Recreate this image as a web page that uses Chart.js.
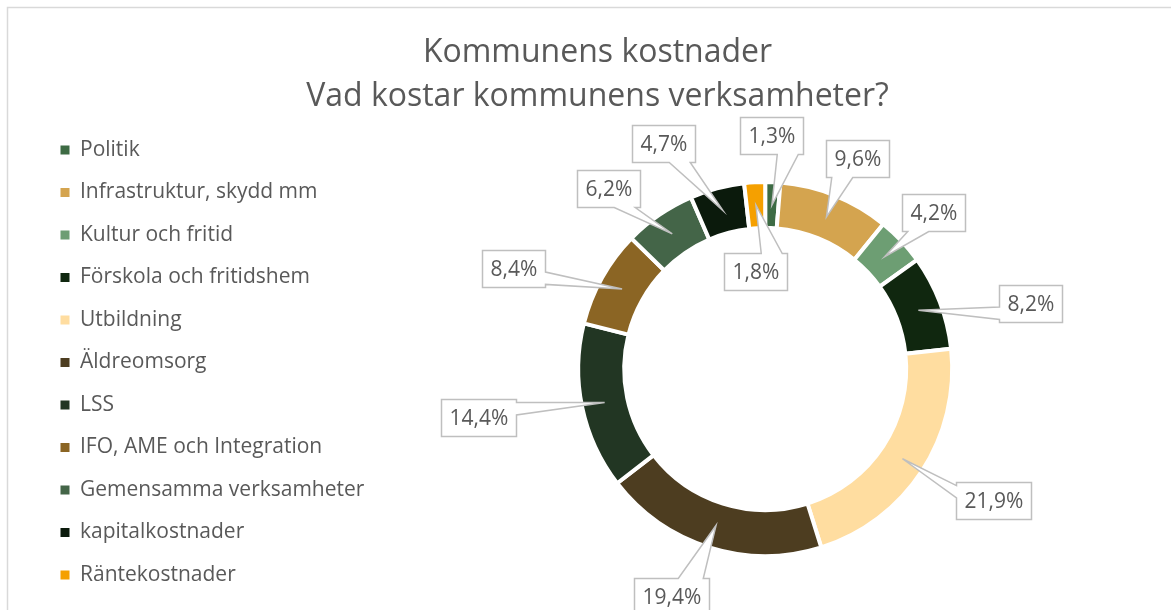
<!DOCTYPE html>
<html>
<head>
<meta charset="utf-8">
<script src="https://cdn.jsdelivr.net/npm/chart.js@4.4.0/dist/chart.umd.min.js"></script>
<style>
  html, body { margin: 0; padding: 0; background: #fff; }
</style>
</head>
<body>
<canvas id="costChart" width="1171" height="610"></canvas>
<script>
const categories = ['Politik', 'Infrastruktur, skydd mm', 'Kultur och fritid', 'Förskola och fritidshem', 'Utbildning',
  'Äldreomsorg', 'LSS', 'IFO, AME och Integration', 'Gemensamma verksamheter', 'kapitalkostnader', 'Räntekostnader'];
const shares = [1.3, 9.6, 4.2, 8.2, 21.9, 19.4, 14.4, 8.4, 6.2, 4.7, 1.8];
const sliceColors = ['#3d6b44', '#d4a44f', '#6d9e73', '#10270f', '#ffdda0', '#4d3d20', '#223623', '#8b6524', '#446548', '#0b1a0c', '#f5a000'];
const titleLines = ['Kommunens kostnader', 'Vad kostar kommunens verksamheter?'];

const FONT = '"Open Sans", "DejaVu Sans", sans-serif';
const GREY = '#595959';

// white page + the thin grey frame of the chart box
const framePlugin = {
    id: 'frame',
    beforeDraw(chart) {
        const ctx = chart.ctx;
        ctx.save();
        ctx.fillStyle = '#fff';
        ctx.fillRect(0, 0, chart.width, chart.height);
        ctx.strokeStyle = '#d9d9d9';
        ctx.lineWidth = 1.5;
        ctx.beginPath();
        ctx.moveTo(7.5, chart.height);
        ctx.lineTo(7.5, 7.5);
        ctx.lineTo(chart.width, 7.5);
        ctx.stroke();
        ctx.restore();
    }
};

// Excel-like data callouts: box with a wedge pointing into the slice
const calloutPlugin = {
    id: 'callouts',
    afterDatasetsDraw(chart, args, opts) {
        const ctx = chart.ctx;
        const meta = chart.getDatasetMeta(0);
        ctx.save();
        ctx.font = opts.font;
        meta.data.forEach((arc, i) => {
            const p = arc.getProps(['x', 'y', 'startAngle', 'endAngle', 'innerRadius', 'outerRadius'], true);
            const mid = (p.startAngle + p.endAngle) / 2;
            const rMid = (p.innerRadius + p.outerRadius) / 2;
            const tipX = p.x + Math.cos(mid) * rMid;
            const tipY = p.y + Math.sin(mid) * rMid;
            const a = mid + opts.turn[i] * Math.PI / 180;
            const cx = p.x + Math.cos(a) * opts.dist[i];
            const cy = p.y + Math.sin(a) * opts.dist[i];

            const text = shares[i].toFixed(1).replace('.', ',') + '%';
            const w = Math.round(ctx.measureText(text).width + opts.padX * 2);
            const h = opts.boxHeight;
            const l = Math.round(cx - w / 2) + 0.5, t = Math.round(cy - h / 2) + 0.5;
            const r = l + w, b = t + h;
            const dx = tipX - cx, dy = tipY - cy;
            const horiz = Math.abs(dx * h) > Math.abs(dy * w);

            ctx.beginPath();
            ctx.moveTo(l, t);
            if (!horiz && dy < 0) {
                const xa = dx > 0 ? l + w * 7 / 12 : l + w / 12;
                const xb = dx > 0 ? l + w * 11 / 12 : l + w * 5 / 12;
                ctx.lineTo(xa, t); ctx.lineTo(tipX, tipY); ctx.lineTo(xb, t);
            }
            ctx.lineTo(r, t);
            if (horiz && dx > 0) {
                const ya = dy > 0 ? t + h * 7 / 12 : t + h / 12;
                const yb = dy > 0 ? t + h * 11 / 12 : t + h * 5 / 12;
                ctx.lineTo(r, ya); ctx.lineTo(tipX, tipY); ctx.lineTo(r, yb);
            }
            ctx.lineTo(r, b);
            if (!horiz && dy >= 0) {
                const xa = dx > 0 ? l + w * 11 / 12 : l + w * 5 / 12;
                const xb = dx > 0 ? l + w * 7 / 12 : l + w / 12;
                ctx.lineTo(xa, b); ctx.lineTo(tipX, tipY); ctx.lineTo(xb, b);
            }
            ctx.lineTo(l, b);
            if (horiz && dx <= 0) {
                const ya = dy > 0 ? t + h * 11 / 12 : t + h * 5 / 12;
                const yb = dy > 0 ? t + h * 7 / 12 : t + h / 12;
                ctx.lineTo(l, ya); ctx.lineTo(tipX, tipY); ctx.lineTo(l, yb);
            }
            ctx.closePath();
            ctx.fillStyle = '#fff';
            ctx.fill();
            ctx.strokeStyle = opts.borderColor;
            ctx.lineWidth = 1.5;
            ctx.stroke();

            ctx.fillStyle = opts.color;
            ctx.textAlign = 'center';
            ctx.textBaseline = 'middle';
            ctx.fillText(text, l + w / 2, t + h / 2 + 1);
        });
        ctx.restore();
    }
};

const ctx = document.getElementById('costChart').getContext('2d');

// layout: top padding only moves the full-height legend down; the title pulls
// itself back up with a negative top padding
new Chart(ctx, {
    type: 'doughnut',
    data: {
        labels: categories,
        datasets: [{
            data: shares,
            backgroundColor: sliceColors,
            borderColor: '#ffffff',
            borderWidth: 4,
            radius: 187,
            cutout: '75.4%'
        }]
    },
    options: {
        responsive: false,
        animation: false,
        layout: { padding: { left: 39, right: 15, top: 115, bottom: 0 } },
        plugins: {
            title: {
                display: true,
                text: titleLines,
                color: GREY,
                font: { family: FONT, size: 32, weight: 'normal', lineHeight: 1.4 },
                padding: { top: -85, bottom: 8.4 }
            },
            legend: {
                position: 'left',
                align: 'center',
                fullSize: true,
                labels: {
                    boxWidth: 9,
                    boxHeight: 9,
                    padding: 21.5,
                    color: GREY,
                    font: { family: FONT, size: 21 },
                    generateLabels(chart) {
                        const items = Chart.overrides.doughnut.plugins.legend.labels.generateLabels(chart);
                        return items.map(it => Object.assign(it, { lineWidth: 0, strokeStyle: it.fillStyle }));
                    }
                }
            },
            tooltip: { enabled: false },
            callouts: {
                font: '21px ' + FONT,
                color: GREY,
                borderColor: '#bfbfbf',
                padX: 8,
                boxHeight: 37,
                dist: [234, 230, 230, 273, 263, 246, 291, 271, 239, 247, 98],
                turn: [-0.7, 1.7, 0.2, 7.1, -3.2, 5, 2.2, -7.5, -6.5, -9.4, -2.5]
            }
        }
    },
    plugins: [framePlugin, calloutPlugin]
});
</script>
</body>
</html>
